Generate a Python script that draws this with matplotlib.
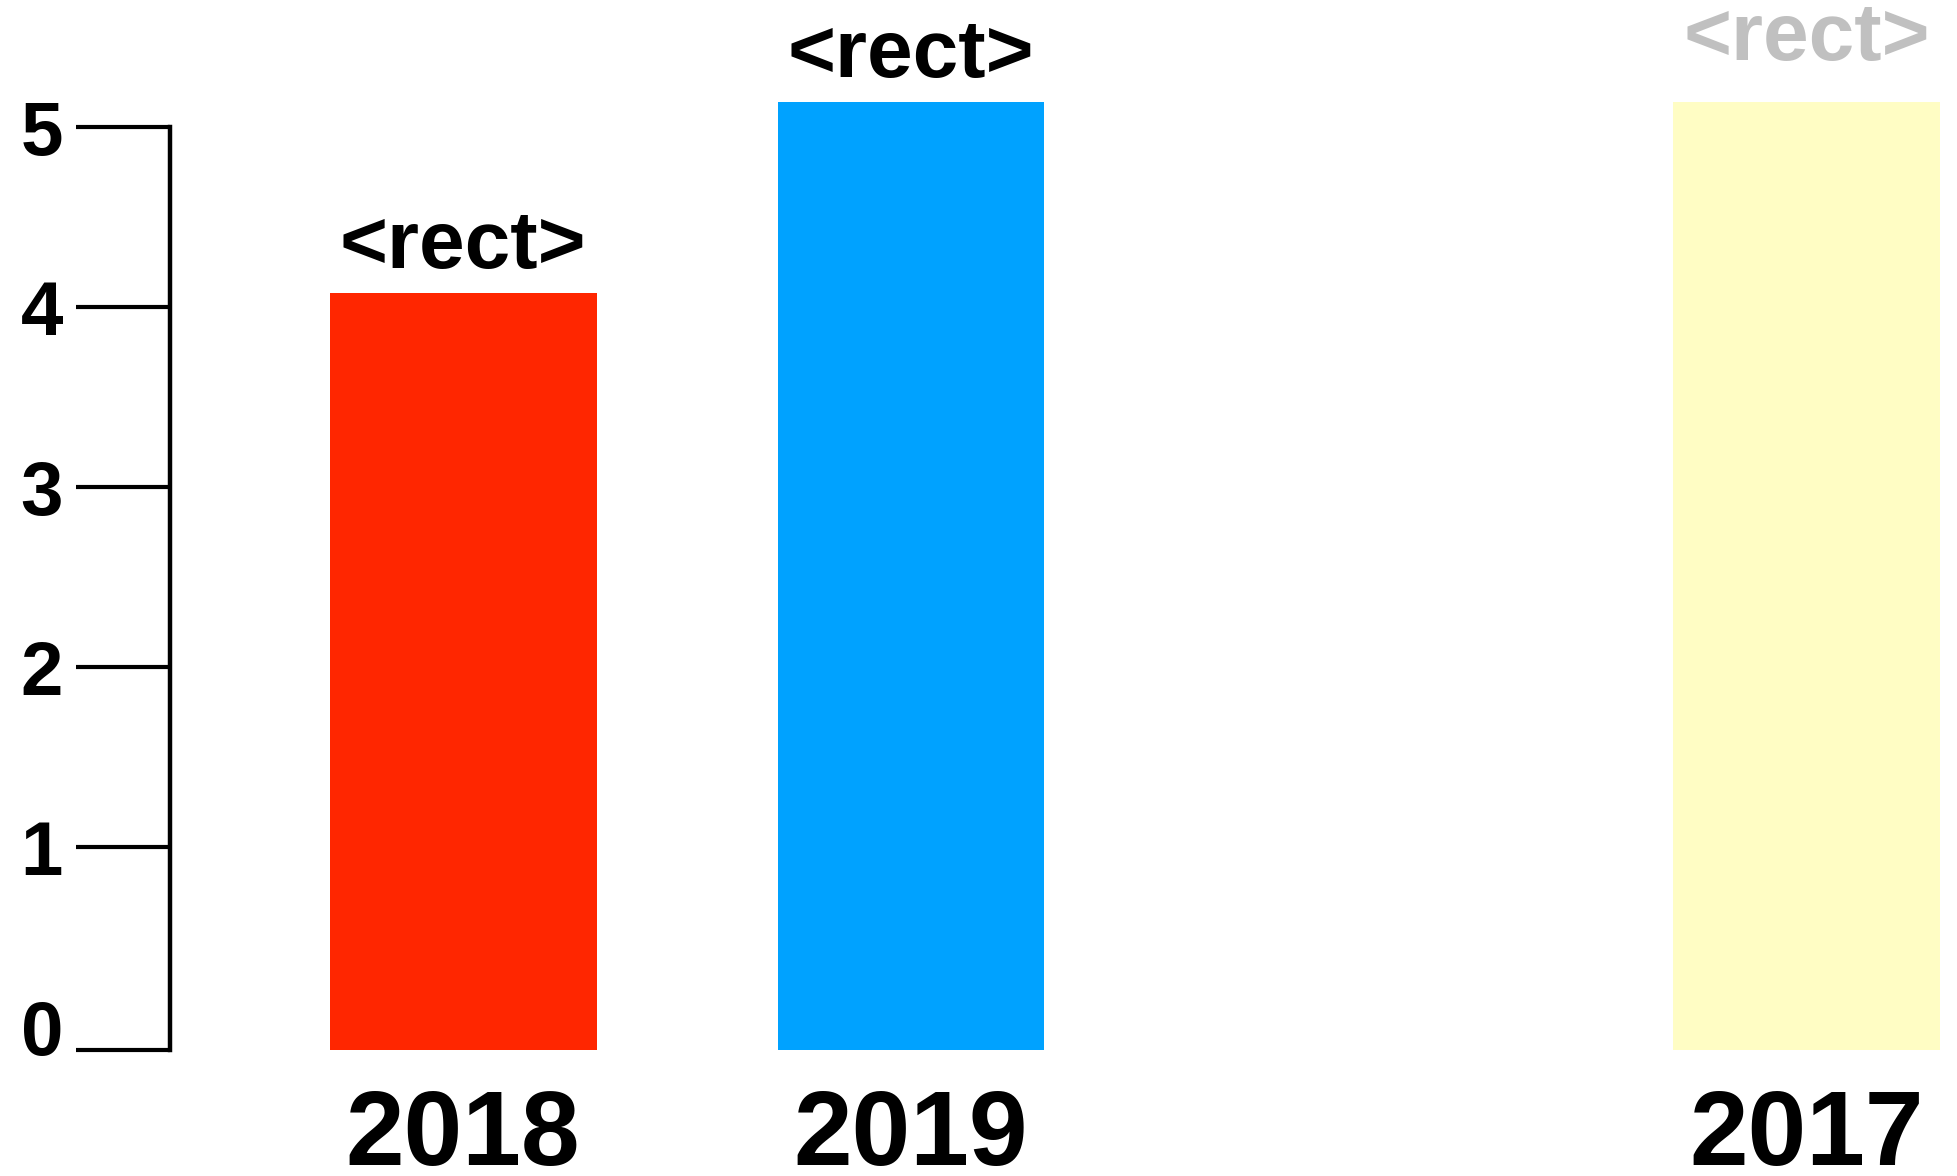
import matplotlib.pyplot as plt

# 数据
years = ['2018', '2019', '2017']
slots = [0, 1, 3]          # 第3个位置是空的
values = [4.08, 5.14, 5.14]
bar_colors = ['#ff2600', '#00a2ff', '#fffdc4']
label_colors = ['black', 'black', '#c0c0c0']
label_offsets = [18, 18, 30]   # 标签离柱顶的距离 (pt)
yticks = [0, 1, 2, 3, 4, 5]

plt.rcParams['font.family'] = ['Liberation Sans', 'DejaVu Sans']
plt.rcParams['font.weight'] = 'bold'

fig = plt.figure(figsize=(19.57, 11.76), dpi=100)
ax = fig.add_axes([0.0869, 0.1071, 1 - 0.0869, 1 - 0.1071])

base = -0.128
ax.set_xlim(-0.654, 3.335)
ax.set_ylim(base, 5.706)

heights = [v - base for v in values]
ax.bar(slots, heights, bottom=base, width=0.596, color=bar_colors)

for x, v, c, off in zip(slots, values, label_colors, label_offsets):
    ax.annotate('<rect>', (x, v), xytext=(0, off), textcoords='offset points',
                ha='center', va='baseline', fontsize=59, fontweight='bold', color=c)

# 坐标轴样式
for s in ['top', 'right', 'bottom']:
    ax.spines[s].set_visible(False)
ax.spines['left'].set_linewidth(3.2)
ax.spines['left'].set_bounds(base, 5)

ax.set_yticks(yticks)
ax.set_yticklabels([str(t) for t in yticks], fontsize=55, fontweight='bold')
ax.set_yticks([base], minor=True)
ax.tick_params(axis='y', which='both', length=68, width=3, pad=9)
ax.yaxis.get_major_ticks()[0].tick1line.set_visible(False)

ax.set_xticks(slots)
ax.set_xticklabels(years, fontsize=76, fontweight='bold')
ax.tick_params(axis='x', length=0, pad=27)

fig.savefig('out.png', dpi=100)
